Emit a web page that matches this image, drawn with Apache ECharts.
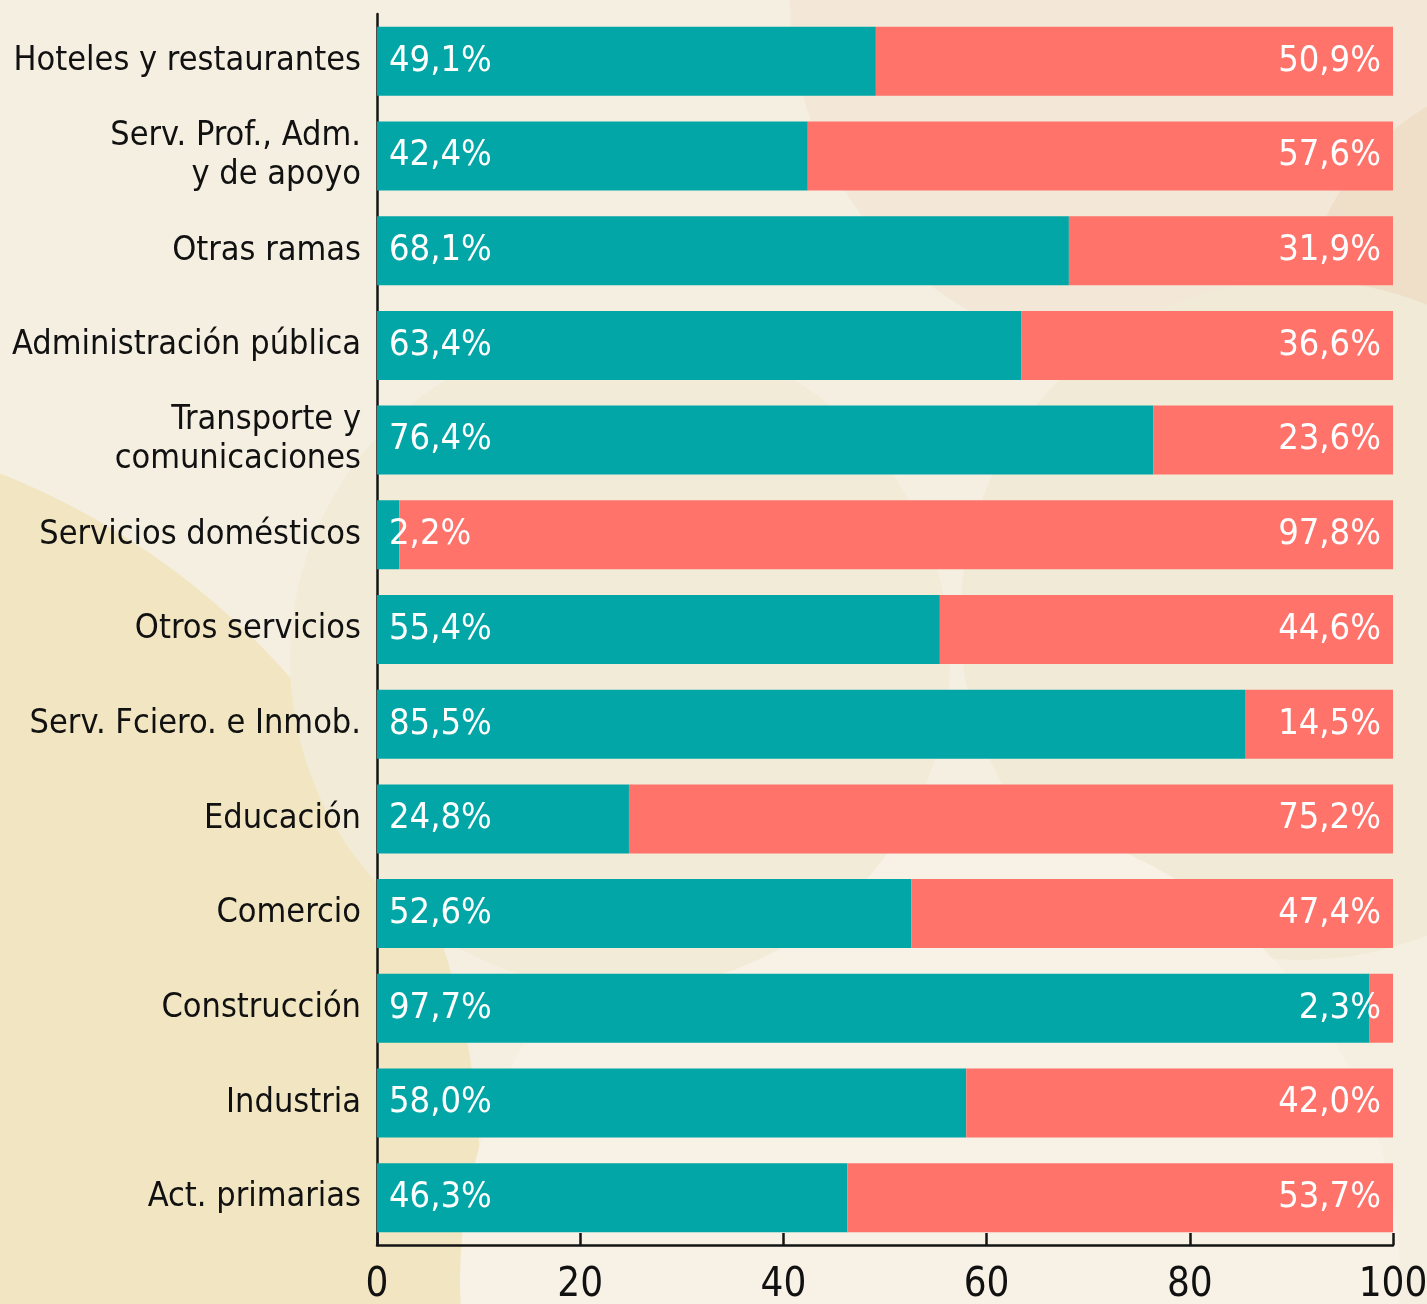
<!DOCTYPE html>
<html>
<head>
<meta charset="utf-8">
<script src="https://cdn.jsdelivr.net/npm/echarts@6/dist/echarts.min.js"></script>
<style>
  html, body { margin: 0; padding: 0; background: #f5efe2; }
  #chart { width: 1427px; height: 1304px; }
</style>
</head>
<body>
<div id="chart"></div>
<script>
var categories = [
  'Hoteles y restaurantes', 'Serv. Prof., Adm.\ny de apoyo', 'Otras ramas',
  'Administración pública', 'Transporte y\ncomunicaciones', 'Servicios domésticos',
  'Otros servicios', 'Serv. Fciero. e Inmob.', 'Educación', 'Comercio',
  'Construcción', 'Industria', 'Act. primarias'
];
var menValues = [49.1, 42.4, 68.1, 63.4, 76.4, 2.2, 55.4, 85.5, 24.8, 52.6, 97.7, 58.0, 46.3];
var womenValues = [50.9, 57.6, 31.9, 36.6, 23.6, 97.8, 44.6, 14.5, 75.2, 47.4, 2.3, 42.0, 53.7];
var xTicks = [0, 20, 40, 60, 80, 100];

var font = "'DejaVu Sans Condensed', 'Liberation Sans Narrow', sans-serif";

function pct(v) {
  return v.toFixed(1).replace('.', ',') + '%';
}

var chart = echarts.init(document.getElementById('chart'));

chart.setOption({
  backgroundColor: '#f5efe2',
  animation: false,
  textStyle: { fontFamily: font },
  graphic: [
    // decorative background blobs
    { type: 'circle', z: -10, silent: true, shape: { cx: 1150, cy: 0, r: 360 }, style: { fill: '#f3e7d7' } },
    { type: 'circle', z: -10, silent: true, shape: { cx: 1560, cy: 330, r: 260 }, style: { fill: '#f0dfc8' } },
    { type: 'circle', z: -9, silent: true, shape: { cx: 1300, cy: 620, r: 340 }, style: { fill: '#f1ead6' } },
    { type: 'circle', z: -10, silent: true, shape: { cx: -280, cy: 1180, r: 760 }, style: { fill: '#f2e6c2' } },
    { type: 'circle', z: -9, silent: true, shape: { cx: 930, cy: 1280, r: 470 }, style: { fill: '#f8f1e6' } },
    { type: 'circle', z: -9, silent: true, shape: { cx: 620, cy: 660, r: 330 }, style: { fill: '#f2ebd8' } }
  ],
  grid: { left: 377, right: 34, top: 14, bottom: 59, containLabel: false, outerBoundsMode: 'none' },
  xAxis: {
    type: 'value',
    min: 0,
    max: 100,
    interval: 20,
    splitLine: { show: false },
    axisLine: { show: true, lineStyle: { color: '#141414', width: 2.5 } },
    axisTick: { show: true, inside: true, length: 12, lineStyle: { color: '#141414', width: 2.5 } },
    axisLabel: {
      color: '#111',
      fontSize: 40,
      margin: 21,
      fontFamily: font,
      formatter: function (v) { return xTicks.indexOf(v) >= 0 ? String(v) : ''; }
    }
  },
  yAxis: {
    type: 'category',
    inverse: true,
    data: categories,
    axisLine: { show: true, lineStyle: { color: '#141414', width: 2.5 } },
    axisTick: { show: false },
    axisLabel: {
      color: '#111',
      fontSize: 34,
      lineHeight: 39,
      margin: 16,
      padding: [6, 0, 0, 0],
      fontFamily: font
    }
  },
  series: [
    {
      name: 'Hombres',
      type: 'bar',
      stack: 'total',
      barWidth: 69,
      itemStyle: { color: '#03a6a6' },
      label: {
        show: true,
        position: 'insideLeft',
        distance: 12,
        color: '#fff',
        fontSize: 36,
        fontFamily: font,
        formatter: function (p) { return pct(p.value); }
      },
      data: menValues
    },
    {
      name: 'Mujeres',
      type: 'bar',
      stack: 'total',
      barWidth: 69,
      itemStyle: { color: '#ff736b' },
      label: {
        show: true,
        position: 'insideRight',
        distance: 12,
        color: '#fff',
        fontSize: 36,
        fontFamily: font,
        formatter: function (p) { return pct(p.value); }
      },
      data: womenValues
    }
  ]
});
</script>
</body>
</html>
